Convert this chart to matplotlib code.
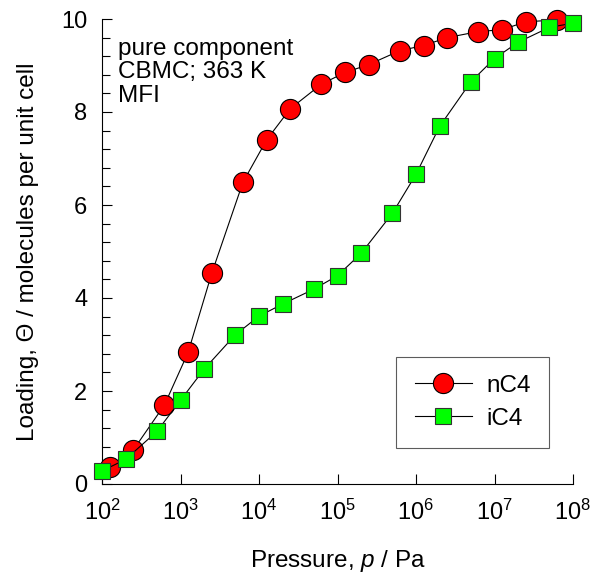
import matplotlib
matplotlib.use("Agg")
import matplotlib.pyplot as plt
from matplotlib.ticker import MultipleLocator, NullLocator, FixedLocator

plt.rcParams['font.family'] = ['Liberation Sans', 'DejaVu Sans']
plt.rcParams['mathtext.fontset'] = 'custom'
plt.rcParams['mathtext.rm'] = 'Liberation Sans'
plt.rcParams['mathtext.it'] = 'Liberation Sans:italic'

# data
p_nC4 = [1.25e2, 2.5e2, 6.25e2, 1.25e3, 2.5e3, 6.25e3, 1.25e4, 2.5e4, 6.25e4,
         1.25e5, 2.5e5, 6.25e5, 1.25e6, 2.5e6, 6.25e6, 1.25e7, 2.5e7, 6.25e7]
q_nC4 = [0.37, 0.73, 1.70, 2.83, 4.53, 6.49, 7.40, 8.07, 8.60,
         8.85, 9.02, 9.32, 9.43, 9.60, 9.73, 9.77, 9.94, 9.98]
p_iC4 = [1e2, 2e2, 5e2, 1e3, 2e3, 5e3, 1e4, 2e4, 5e4, 1e5, 2e5, 5e5,
         1e6, 2e6, 5e6, 1e7, 2e7, 5e7, 1e8]
q_iC4 = [0.28, 0.53, 1.13, 1.80, 2.47, 3.21, 3.61, 3.87, 4.19, 4.48, 4.96, 5.82,
         6.66, 7.69, 8.65, 9.15, 9.50, 9.82, 9.91]
x_ticks = [1e2, 1e3, 1e4, 1e5, 1e6, 1e7, 1e8]
x_ticklabels = [r'10$^{2}$', r'10$^{3}$', r'10$^{4}$', r'10$^{5}$', r'10$^{6}$', r'10$^{7}$', r'10$^{8}$']

W, H = 592, 577
fig = plt.figure(figsize=(W/100, H/100), dpi=100)
ax = fig.add_axes([102/W, 1-484/H, (573-102)/W, (484-19)/H])

ax.plot(p_nC4, q_nC4, '-', color='black', lw=0.8, marker='o', ms=14.5,
        mfc='red', mec='black', mew=0.8, label='nC4', clip_on=False, zorder=3)
ax.plot(p_iC4, q_iC4, '-', color='black', lw=0.8, marker='s', ms=12,
        mfc='#00ff00', mec='#333333', mew=0.8, label='iC4', clip_on=False, zorder=4)

ax.set_xscale('log')
ax.set_xlim(1e2, 1e8)
ax.set_ylim(0, 10)
ax.xaxis.set_major_locator(FixedLocator(x_ticks))
ax.set_xticklabels(x_ticklabels)
ax.xaxis.set_minor_locator(NullLocator())
ax.yaxis.set_major_locator(MultipleLocator(2))
ax.yaxis.set_minor_locator(MultipleLocator(0.4))

ax.spines['top'].set_visible(False)
ax.spines['right'].set_visible(False)
ax.tick_params(which='both', direction='in', labelsize=17)
ax.tick_params(which='major', length=7, width=0.8)
ax.tick_params(which='minor', length=6, width=0.8)
ax.tick_params(axis='x', which='major', pad=11)
ax.tick_params(axis='y', which='major', pad=10.5)

ax.set_xlabel(r'Pressure, $\it{p}$ / Pa', fontsize=17.5)
ax.set_ylabel('Loading, Θ / molecules per unit cell', fontsize=17.5)
ax.xaxis.set_label_coords(0.5, -(548-484)/465)
ax.yaxis.set_label_coords(-(102-39)/471, 0.5)

fig.text(118/W, 1-102/H, 'pure component\nCBMC; 363 K\nMFI',
         fontsize=17.5, va='baseline', ha='left', linespacing=1.1)

leg = ax.legend(loc='lower right', bbox_to_anchor=((549-102)/471, (484-448)/465),
                borderaxespad=0, fontsize=17.5, frameon=True, fancybox=False,
                edgecolor='#333333', borderpad=0.75, handlelength=2.35,
                handletextpad=0.6, labelspacing=0.45)
leg.get_frame().set_linewidth(0.8)

fig.savefig('out.png', dpi=100)
